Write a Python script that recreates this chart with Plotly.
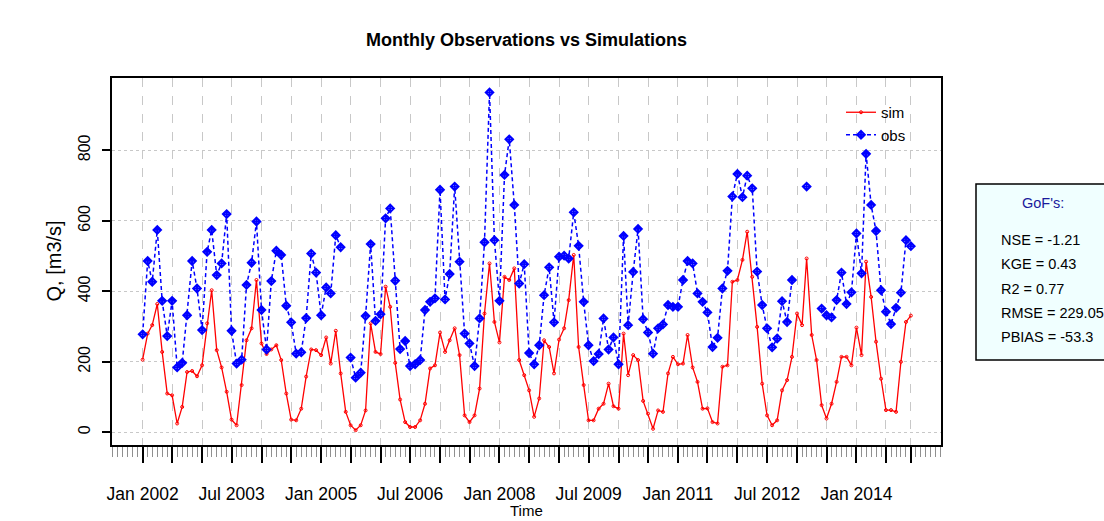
import plotly.graph_objects as go
import pandas as pd

# ---------------- data ----------------
start_month = "2002-01-01"
n_months = 156

sim = [206, 280, 304, 364, 228, 110, 105, 25, 72, 171, 174, 159,
       190, 309, 403, 233, 184, 115, 36, 20, 134, 261, 295, 432,
       252, 222, 235, 247, 205, 110, 36, 34, 67, 158, 235, 233,
       219, 269, 195, 288, 167, 58, 20, 6, 20, 62, 309, 228,
       222, 413, 356, 197, 93, 29, 15, 15, 34, 81, 181, 190,
       283, 228, 261, 295, 219, 48, 29, 48, 124, 337, 479, 313,
       255, 441, 432, 465, 205, 162, 119, 44, 96, 261, 242, 167,
       263, 295, 375, 503, 242, 134, 34, 34, 67, 81, 138, 74,
       67, 280, 162, 219, 205, 89, 53, 10, 62, 58, 167, 214,
       193, 195, 276, 184, 143, 67, 68, 29, 25, 186, 190, 427,
       432, 489, 569, 441, 299, 138, 48, 20, 34, 119, 148, 214,
       337, 304, 493, 276, 205, 77, 39, 81, 143, 214, 214, 190,
       297, 219, 484, 384, 257, 152, 63, 63, 58, 200, 313, 331]

obs = [278, 486, 427, 574, 373, 273, 373, 184, 197, 332, 486, 408,
       290, 512, 574, 446, 479, 619, 288, 195, 206, 418, 481, 598,
       347, 235, 429, 515, 503, 359, 312, 223, 227, 324, 507, 453,
       332, 411, 394, 559, 525, None, 212, 155, 169, 330, 534, 316,
       335, 607, 635, 430, 236, 259, 188, 193, 205, 347, 370, 380,
       688, 377, 449, 697, 484, 280, 252, 188, 323, 539, 964, 545,
       373, 730, 831, 645, 422, 477, 225, 193, 247, 389, 468, 312,
       498, 501, 493, 624, 529, 370, 247, 202, 222, 323, 235, 269,
       193, 557, 304, 455, 577, 321, 283, 223, 295, 306, 361, 356,
       356, 432, 486, 479, 394, 370, 340, 242, 268, 408, 458, 669,
       733, 667, 728, 692, 456, 361, 295, 241, 266, 372, 313, 432,
       None, None, 697, None, None, 351, 332, 326, 375, 453, 364, 397,
       564, 451, 790, 645, 571, 403, 342, 307, 353, 396, 545, 528]

tick_labels = ["Jan 2002", "Jul 2003", "Jan 2005", "Jul 2006", "Jan 2008",
               "Jul 2009", "Jan 2011", "Jul 2012", "Jan 2014"]
y_ticks = [0, 200, 400, 600, 800]

gof_title = "GoF's:"
gof_lines = ["NSE = -1.21", "KGE = 0.43", "R2 = 0.77", "RMSE = 229.05", "PBIAS = -53.3"]

# ---------------- figure ----------------
dates = pd.date_range(start_month, periods=n_months, freq="MS")
major = list(pd.date_range(start_month, dates[-1], freq="6MS")) + [dates[-1]]
major_text = [d.strftime("%b %Y") if d.strftime("%b %Y") in tick_labels and d != dates[-1] else ""
              for d in major]

FONT = "Liberation Sans, Arial, sans-serif"

fig = go.Figure()
fig.add_trace(go.Scatter(
    x=dates, y=sim, name="sim", mode="lines+markers",
    line=dict(color="#FF0000", width=1.3),
    marker=dict(symbol="circle-open", size=3, color="#FF0000", line=dict(width=1, color="#FF0000")),
))
fig.add_trace(go.Scatter(
    x=dates, y=obs, name="obs", mode="lines+markers", connectgaps=False,
    line=dict(color="#0000FF", width=1.5, dash="4px,3px"),
    marker=dict(symbol="diamond-cross-open", size=6, color="#0000FF", line=dict(width=1.8, color="#0000FF")),
))

L, R, T, B = 112, 163, 78, 76
W, H = 1104, 521
pw, ph = W - L - R, H - T - B

def px_x(p):
    return (p - L) / pw

def px_y(p):
    return (H - B - p) / ph

fig.update_layout(
    width=W, height=H,
    margin=dict(l=L, r=R, t=T, b=B, pad=0),
    paper_bgcolor="white", plot_bgcolor="white",
    font=dict(family=FONT, color="black", size=16),
    title=dict(text="<b>Monthly Observations vs Simulations</b>", x=px_x((L + W - R) / 2), xref="paper",
               xanchor="center", y=1 - 40 / H, yanchor="middle",
               font=dict(family=FONT, size=18, color="black")),
    showlegend=True,
    legend=dict(x=px_x(841), y=px_y(96), xanchor="left", yanchor="top",
                bgcolor="rgba(0,0,0,0)", borderwidth=0, itemwidth=30,
                font=dict(family=FONT, size=15, color="black"), tracegroupgap=0),
)

fig.update_xaxes(
    type="date",
    range=["2001-06-27", "2015-06-04"],
    tickmode="array", tickvals=major, ticktext=major_text,
    ticks="outside", ticklen=16, tickwidth=1.6, tickcolor="black",
    ticklabelstandoff=16,
    tickfont=dict(family=FONT, size=17.5, color="black"),
    showline=True, mirror=True, linecolor="black", linewidth=1.5,
    showgrid=True, gridcolor="#C8C8C8", gridwidth=1, griddash="dash",
    zeroline=False,
    minor=dict(tick0=start_month, dtick="M1", ticks="outside", ticklen=10, tickwidth=1,
               tickcolor="#909090", showgrid=False),
)
fig.update_yaxes(
    range=[-36, 1005],
    tickmode="array", tickvals=y_ticks, ticktext=[str(v) for v in y_ticks],
    ticks="outside", ticklen=8, tickwidth=1.5, tickcolor="black",
    tickangle=-90, ticklabelstandoff=6,
    tickfont=dict(family=FONT, size=16, color="black"),
    showline=True, mirror=True, linecolor="black", linewidth=1.5,
    showgrid=True, gridcolor="#C8C8C8", gridwidth=1, griddash="dot",
    zeroline=False,
)

# axis titles
fig.add_annotation(text="Q, [m3/s]", xref="paper", yref="paper", x=px_x(53), y=0.5,
                   textangle=-90, showarrow=False, xanchor="center", yanchor="middle",
                   font=dict(family=FONT, size=20, color="black"))
fig.add_annotation(text="Time", xref="paper", yref="paper", x=0.5, y=px_y(521),
                   showarrow=False, xanchor="center", yanchor="bottom",
                   font=dict(family=FONT, size=15, color="black"))

# GoF box
fig.add_shape(type="rect", xref="paper", yref="paper",
              x0=px_x(976), x1=px_x(1130), y0=px_y(360), y1=px_y(184),
              fillcolor="#F0FFFF", line=dict(color="black", width=1.5), layer="above")
fig.add_annotation(text=gof_title, xref="paper", yref="paper", x=px_x(1043), y=px_y(203),
                   showarrow=False, xanchor="center", yanchor="middle",
                   font=dict(family=FONT, size=14.5, color="#1A1A9C"))
for k, line in enumerate(gof_lines):
    fig.add_annotation(text=line, xref="paper", yref="paper", x=px_x(999), y=px_y(240 + 24.3 * k),
                       showarrow=False, xanchor="left", yanchor="middle",
                       font=dict(family=FONT, size=14.5, color="black"))

fig.write_html("out.html", config={"displayModeBar": False},
               post_script="document.body.style.margin='0';document.body.style.overflow='hidden';")
